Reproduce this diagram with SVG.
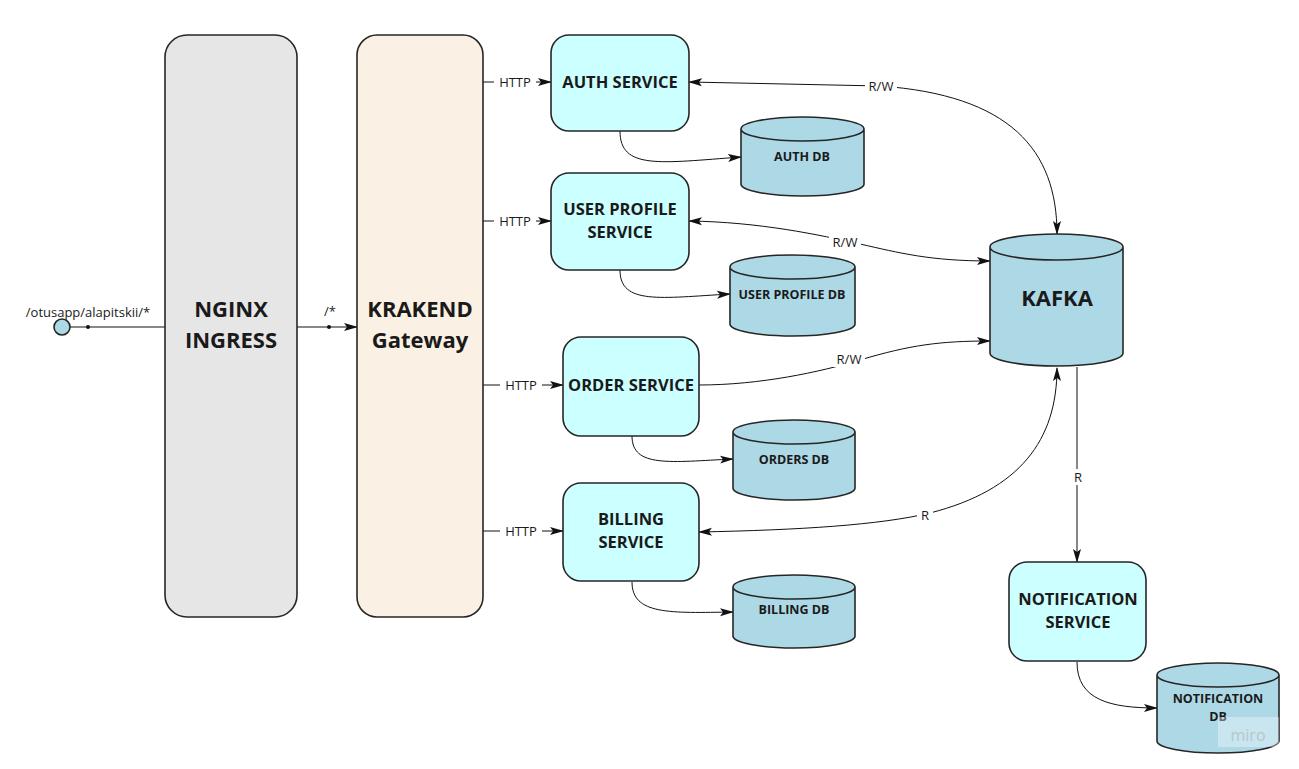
<svg xmlns="http://www.w3.org/2000/svg" width="1299" height="769" viewBox="0 0 1299 769">
<defs>
<marker id="arr" markerWidth="14" markerHeight="10" refX="13" refY="5" orient="auto-start-reverse" markerUnits="userSpaceOnUse"><path d="M0,1 L14,5 L0,9 L3,5 Z" fill="#111"/></marker>
<style>
.big{font-family:"Open Sans","Noto Sans",sans-serif;font-weight:bold;font-size:22px;fill:#1a1a1a;text-anchor:middle}
.svc{fill:#ccffff;stroke:#262626;stroke-width:1.6}
.db{fill:#add8e6;stroke:#262626;stroke-width:1.6}
.st{font-family:"Open Sans","Noto Sans",sans-serif;font-weight:bold;font-size:16.5px;fill:#1a1a1a;text-anchor:middle}
.dt{font-family:"Open Sans","Noto Sans",sans-serif;font-weight:bold;font-size:12.5px;fill:#1a1a1a;text-anchor:middle}
.lbl{font-family:"Open Sans","Noto Sans",sans-serif;font-size:13px;fill:#1a1a1a;text-anchor:middle}
.e{fill:none;stroke:#111;stroke-width:1}
.bg{fill:#fff}
</style>
</defs>
<rect width="1299" height="769" fill="#fff"/>

<g id="connectors">
<path class="e" d="M70,327 L165,327"/>
<circle cx="88" cy="327" r="2" fill="#111"/>
<path class="e" d="M297,327 L357,327" marker-end="url(#arr)"/>
<circle cx="329" cy="327" r="2" fill="#111"/>
<path class="e" d="M483,82 L551,82" marker-end="url(#arr)"/>
<path class="e" d="M483,221 L551,221" marker-end="url(#arr)"/>
<path class="e" d="M483,385 L563,385" marker-end="url(#arr)"/>
<path class="e" d="M483,531 L563,531" marker-end="url(#arr)"/>
<path class="e" d="M620,131 C620,170 660,163 741,157" marker-end="url(#arr)"/>
<path class="e" d="M620,270 C620,305 660,298 730,294" marker-end="url(#arr)"/>
<path class="e" d="M632,436 C632,468 670,462 733,459" marker-end="url(#arr)"/>
<path class="e" d="M632,582 C632,615 670,613 733,612" marker-end="url(#arr)"/>
<path class="e" d="M1077,662 C1077,700 1110,708 1157,708" marker-end="url(#arr)"/>
<path class="e" d="M689,82 L880,86 C1010,95 1057,150 1057,234" marker-start="url(#arr)" marker-end="url(#arr)"/>
<path class="e" d="M689,221 C760,222 820,235 860,244 C900,253 930,261 990,261" marker-start="url(#arr)" marker-end="url(#arr)"/>
<path class="e" d="M699,385 C760,385 820,372 860,360 C910,345 940,341 990,341" marker-end="url(#arr)"/>
<path class="e" d="M699,532 C800,530 880,525 930,513 C1020,490 1057,440 1057,368" marker-start="url(#arr)" marker-end="url(#arr)"/>
<path class="e" d="M1077,367 L1077,562" marker-end="url(#arr)"/>
<text class="lbl" x="88" y="317">/otusapp/alapitskii/*</text>
<text class="lbl" x="330" y="316">/*</text>
<rect class="bg" x="494" y="74" width="42" height="16"/><text class="lbl" x="515" y="87">HTTP</text>
<rect class="bg" x="494" y="213" width="42" height="16"/><text class="lbl" x="515" y="226">HTTP</text>
<rect class="bg" x="500" y="377" width="42" height="16"/><text class="lbl" x="521" y="390">HTTP</text>
<rect class="bg" x="500" y="523" width="42" height="16"/><text class="lbl" x="521" y="536">HTTP</text>
<rect class="bg" x="865" y="78" width="32" height="16"/><text class="lbl" x="881" y="91">R/W</text>
<rect class="bg" x="829" y="234" width="32" height="16"/><text class="lbl" x="845" y="247">R/W</text>
<rect class="bg" x="833" y="351" width="32" height="16"/><text class="lbl" x="849" y="364">R/W</text>
<rect class="bg" x="917" y="507" width="16" height="16"/><text class="lbl" x="925" y="520">R</text>
<rect class="bg" x="1070" y="469" width="16" height="16"/><text class="lbl" x="1078" y="482">R</text>
</g>

<g id="entry"><circle cx="62" cy="327" r="8" fill="#add8e6" stroke="#262626" stroke-width="1.6"/></g>

<g id="nginx">
<rect x="165" y="35" width="132" height="582" rx="22" fill="#e6e6e6" stroke="#262626" stroke-width="1.6"/>
<text class="big" x="231" y="317">NGINX</text>
<text class="big" x="231" y="348">INGRESS</text>
</g>
<g id="krakend">
<rect x="357" y="35" width="126" height="582" rx="20" fill="#faf0e3" stroke="#262626" stroke-width="1.6"/>
<text class="big" x="420" y="317">KRAKEND</text>
<text class="big" x="420" y="348">Gateway</text>
</g>

<g id="auth-service"><rect class="svc" x="551" y="35" width="138" height="96" rx="18"/><text class="st" x="620" y="88">AUTH SERVICE</text></g>
<g id="user-profile-service"><rect class="svc" x="551" y="173" width="138" height="97" rx="18"/><text class="st" x="620" y="215">USER PROFILE</text><text class="st" x="620" y="238">SERVICE</text></g>
<g id="order-service"><rect class="svc" x="563" y="337" width="136" height="99" rx="18"/><text class="st" x="631" y="391">ORDER SERVICE</text></g>
<g id="billing-service"><rect class="svc" x="563" y="483" width="136" height="98" rx="18"/><text class="st" x="631" y="525">BILLING</text><text class="st" x="631" y="548">SERVICE</text></g>
<g id="notification-service"><rect class="svc" x="1009" y="562" width="137" height="99" rx="18"/><text class="st" x="1078" y="605">NOTIFICATION</text><text class="st" x="1078" y="628">SERVICE</text></g>

<g id="auth-db"><path class="db" d="M741,129 L741,184 A61.5,12 0 0 0 864,184 L864,129 A61.5,12 0 0 0 741,129 A61.5,12 0 0 0 864,129"/><text class="dt" x="802" y="161">AUTH DB</text></g>
<g id="user-profile-db"><path class="db" d="M730,267 L730,324 A62.5,12 0 0 0 855,324 L855,267 A62.5,12 0 0 0 730,267 A62.5,12 0 0 0 855,267"/><text class="dt" x="792" y="299">USER PROFILE DB</text></g>
<g id="orders-db"><path class="db" d="M733,432 L733,488 A61,12 0 0 0 855,488 L855,432 A61,12 0 0 0 733,432 A61,12 0 0 0 855,432"/><text class="dt" x="794" y="464">ORDERS DB</text></g>
<g id="billing-db"><path class="db" d="M733,587 L733,636 A61,12 0 0 0 855,636 L855,587 A61,12 0 0 0 733,587 A61,12 0 0 0 855,587"/><text class="dt" x="794" y="614">BILLING DB</text></g>
<g id="kafka"><path class="db" d="M990,247 L990,353 A66.5,13 0 0 0 1123,353 L1123,247 A66.5,13 0 0 0 990,247 A66.5,13 0 0 0 1123,247"/><text class="big" x="1057" y="306">KAFKA</text></g>
<g id="notification-db"><path class="db" d="M1157,675 L1157,741 A61,12 0 0 0 1279,741 L1279,675 A61,12 0 0 0 1157,675 A61,12 0 0 0 1279,675"/><text class="dt" x="1218" y="703">NOTIFICATION</text><text class="dt" x="1218" y="721">DB</text></g>

<g id="watermark"><rect x="1218" y="717" width="61" height="30" fill="#fff" fill-opacity="0.35"/><text x="1248" y="741" font-family="Open Sans, sans-serif" font-size="16" fill="#b5c7cc" text-anchor="middle">miro</text></g>
</svg>
